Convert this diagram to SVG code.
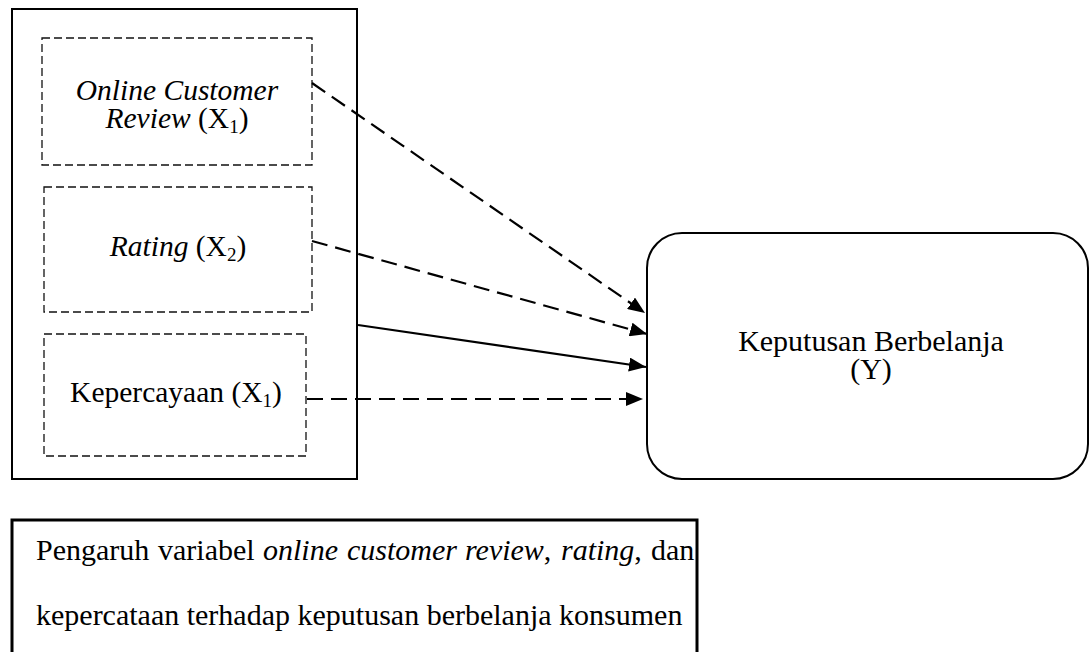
<svg xmlns="http://www.w3.org/2000/svg" width="1091" height="652" viewBox="0 0 1091 652">
<defs>
<style>
.t{font-family:"Liberation Serif","Times New Roman",serif;font-size:29.5px;fill:#000}
.big{font-size:30px}
.i{font-style:italic}
.sub{font-size:19px}
.dbox{fill:none;stroke:#111;stroke-width:1.3;stroke-dasharray:8 4}
.frame{fill:none;stroke:#000;stroke-width:2}
.con{stroke:#000;stroke-width:2.2;fill:none}
.dash{stroke-dasharray:16 8}
</style>
<marker id="ah" markerUnits="userSpaceOnUse" markerWidth="18" markerHeight="14" refX="17" refY="7" orient="auto">
<path d="M0,0 L17,7 L0,14 z" fill="#000"/>
</marker>
</defs>
<rect width="1091" height="652" fill="#fff"/>
<g id="group-x">
<rect class="frame" x="12" y="9" width="345" height="470"/>
</g>
<g id="node-x1">
<rect class="dbox" x="42" y="38" width="270" height="127"/>
<text class="t i" x="177" y="100" text-anchor="middle">Online Customer</text>
<text class="t" x="177" y="128" text-anchor="middle"><tspan class="i">Review</tspan> (X<tspan class="sub" dy="5">1</tspan><tspan dy="-5">)</tspan></text>
</g>
<g id="node-x2">
<rect class="dbox" x="44" y="187" width="268" height="125"/>
<text class="t" x="178" y="256" text-anchor="middle"><tspan class="i">Rating</tspan> (X<tspan class="sub" dy="5">2</tspan><tspan dy="-5">)</tspan></text>
</g>
<g id="node-x3">
<rect class="dbox" x="44" y="334" width="262" height="122"/>
<text class="t" x="176" y="402" text-anchor="middle">Kepercayaan (X<tspan class="sub" dy="5">1</tspan><tspan dy="-5">)</tspan></text>
</g>
<g id="node-y">
<rect class="frame" x="647" y="233" width="441" height="246" rx="35" ry="35"/>
<text class="t big" x="871" y="351" text-anchor="middle">Keputusan Berbelanja</text>
<text class="t big" x="871" y="379" text-anchor="middle">(Y)</text>
</g>
<g id="connectors">
<line class="con dash" x1="312" y1="83" x2="645" y2="313" marker-end="url(#ah)"/>
<line class="con dash" x1="312" y1="241" x2="647" y2="334" marker-end="url(#ah)"/>
<line class="con" x1="358" y1="325" x2="646" y2="367" marker-end="url(#ah)"/>
<line class="con dash" x1="307" y1="399" x2="643" y2="399" marker-end="url(#ah)"/>
</g>
<g id="caption">
<rect x="12" y="520" width="685" height="150" fill="none" stroke="#000" stroke-width="3"/>
<text class="t big" y="560"><tspan x="36">Pengaruh</tspan><tspan x="158">variabel</tspan><tspan class="i" x="263">online</tspan><tspan class="i" x="347">customer</tspan><tspan x="465"><tspan class="i">review</tspan>,</tspan><tspan x="561"><tspan class="i">rating</tspan>,</tspan><tspan x="651">dan</tspan></text>
<text class="t big" x="36" y="625">kepercataan terhadap keputusan berbelanja konsumen</text>
</g>
</svg>
